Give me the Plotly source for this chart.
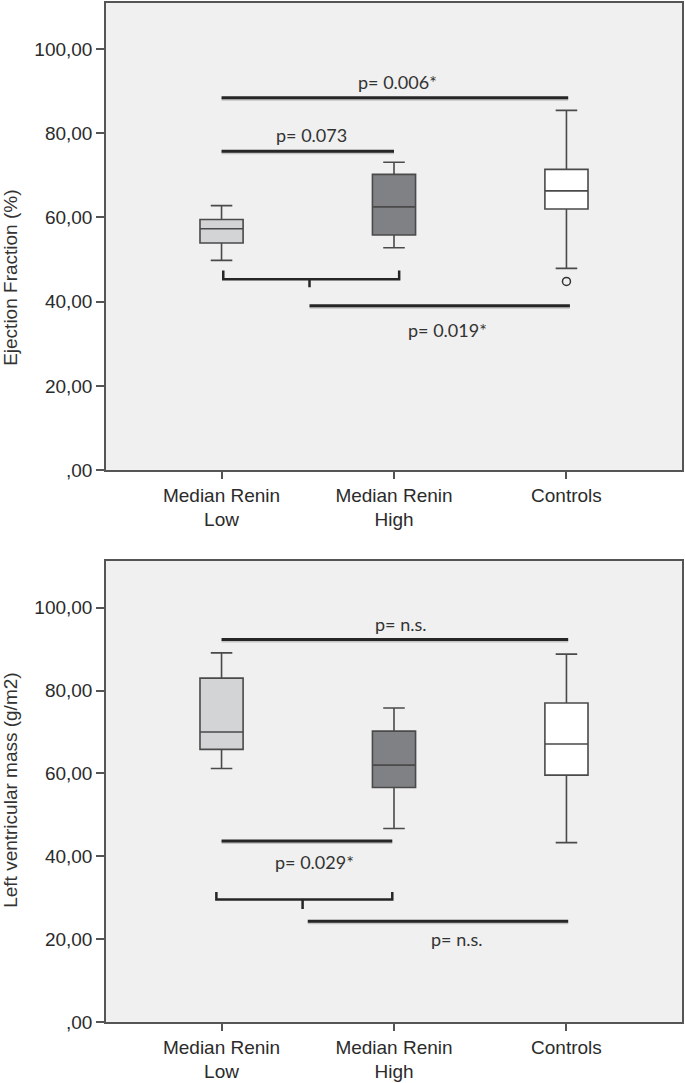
import plotly.graph_objects as go

# ---------------- data ----------------
categories = ["Median Renin<br>Low", "Median Renin<br>High", "Controls"]
cat_pos = [0, 1, 2]

# box stats: [lower whisker, q1, median, q3, upper whisker]
ef_low = [49.8, 53.9, 57.3, 59.5, 62.8]
ef_high = [52.8, 55.8, 62.5, 70.2, 73.1]
ef_ctrl = [47.9, 62.0, 66.3, 71.4, 85.4]
ef_outlier_x = [2]
ef_outlier_y = [44.8]

lvm_low = [61.2, 65.8, 70.0, 83.0, 89.1]
lvm_high = [46.7, 56.6, 62.0, 70.2, 75.8]
lvm_ctrl = [43.3, 59.6, 67.1, 77.0, 88.8]

y_tickvals = [0, 20, 40, 60, 80, 100]
y_ticktext = [",00", "20,00", "40,00", "60,00", "80,00", "100,00"]

# significance annotations: (x0, x1, y, label, label_x, label_y)
ef_sig = [
    (0.0, 2.01, 88.4, "p= 0.006*", 1.02, 92.2),
    (0.0, 1.0, 75.7, "p= 0.073", 0.52, 79.5),
    (0.51, 2.02, 39.0, "p= 0.019*", 1.31, 33.3),
]
ef_bracket = (0.01, 1.03, 45.3, 47.4, 0.51, 43.4)  # x0, x1, y, y_end, x_mid, y_mid

lvm_sig = [
    (0.0, 2.01, 92.3, "p= n.s.", 1.04, 96.1),
    (0.0, 0.99, 43.7, "p= 0.029*", 0.54, 38.7),
    (0.50, 2.01, 24.3, "p= n.s.", 1.36, 20.0),
]
lvm_bracket = (-0.03, 0.99, 29.6, 31.4, 0.47, 27.3)

fills = ["#d3d4d6", "#808184", "#ffffff"]

# ---------------- figure ----------------
FONT = "Liberation Sans, Arial, sans-serif"
PFONT = "Lato, Open Sans, sans-serif"
BOXLINE = "#4a4a4a"

fig = go.Figure()

def add_boxes(stats_list, xa, ya):
    for pos, st, fc in zip(cat_pos, stats_list, fills):
        fig.add_trace(go.Box(
            x=[pos], lowerfence=[st[0]], q1=[st[1]], median=[st[2]],
            q3=[st[3]], upperfence=[st[4]],
            fillcolor=fc, line=dict(color=BOXLINE, width=1.6),
            width=0.25, whiskerwidth=0.5, boxpoints=False,
            showlegend=False, hoverinfo="skip", xaxis=xa, yaxis=ya,
        ))

add_boxes([ef_low, ef_high, ef_ctrl], "x", "y")
add_boxes([lvm_low, lvm_high, lvm_ctrl], "x2", "y2")

fig.add_trace(go.Scatter(
    x=ef_outlier_x, y=ef_outlier_y, mode="markers",
    marker=dict(symbol="circle-open", size=8, color="#333333", line=dict(width=1.5)),
    showlegend=False, hoverinfo="skip", xaxis="x", yaxis="y",
))

shapes = []
annotations = []

def add_sig(sig, bracket, xr, yr, px_per_unit):
    off = 1.5 / px_per_unit
    for x0, x1, y, lab, lx, ly in sig:
        shapes.append(dict(type="line", xref=xr, yref=yr, x0=x0, x1=x1, y0=y - off, y1=y - off,
                           line=dict(color="#c4c4c4", width=3)))
        shapes.append(dict(type="line", xref=xr, yref=yr, x0=x0, x1=x1, y0=y, y1=y,
                           line=dict(color="#262626", width=3)))
        annotations.append(dict(xref=xr, yref=yr, x=lx, y=ly, text=lab, showarrow=False,
                                font=dict(family=PFONT, size=18, color="#333333")))
    bx0, bx1, by, bye, bxm, bym = bracket
    path = f"M {bx0},{bye} L {bx0},{by} L {bx1},{by} L {bx1},{bye} M {bxm},{by} L {bxm},{bym}"
    shapes.append(dict(type="path", xref=xr, yref=yr, path=path,
                       line=dict(color="#262626", width=2.5)))

add_sig(ef_sig, ef_bracket, "x", "y", 4.22)
add_sig(lvm_sig, lvm_bracket, "x2", "y2", 4.15)

annotations.append(dict(xref="paper", yref="paper", x=-0.166, y=(1022 - 276) / 1021,
                        text="Ejection Fraction (%)", textangle=-90, showarrow=False,
                        xanchor="center", yanchor="middle",
                        font=dict(family=FONT, size=19, color="#333333")))
annotations.append(dict(xref="paper", yref="paper", x=-0.166, y=(1022 - 790) / 1021,
                        text="Left ventricular mass (g/m2)", textangle=-90, showarrow=False,
                        xanchor="center", yanchor="middle",
                        font=dict(family=FONT, size=19, color="#333333")))

xaxis_common = dict(
    range=[-0.67, 2.67], tickvals=cat_pos, ticktext=categories,
    showgrid=False, zeroline=False, showline=True, linecolor="#555555", linewidth=1.5,
    mirror=True, ticks="outside", ticklen=7, tickcolor="#555555", tickwidth=1.5,
    tickfont=dict(family=FONT, size=19, color="#2b2b2b"), fixedrange=True,
)
yaxis_common = dict(
    tickvals=y_tickvals, ticktext=y_ticktext,
    showgrid=False, zeroline=False, showline=True, linecolor="#555555", linewidth=1.5,
    mirror=True, ticks="outside", ticklen=8, tickcolor="#555555", tickwidth=1.5,
    tickfont=dict(family=FONT, size=19, color="#2b2b2b"), fixedrange=True,
)

fig.update_layout(
    width=685, height=1083,
    margin=dict(l=106, r=1, t=1, b=61),
    paper_bgcolor="white", plot_bgcolor="#f0f0f0",
    showlegend=False,
    xaxis=dict(**xaxis_common, domain=[0, 1], anchor="y"),
    yaxis=dict(**yaxis_common, domain=[(1022 - 469) / 1021, 1.0], range=[0, 110.9], anchor="x"),
    xaxis2=dict(**xaxis_common, domain=[0, 1], anchor="y2"),
    yaxis2=dict(**yaxis_common, domain=[0, (1022 - 560) / 1021], range=[0, 111.3], anchor="x2"),
    shapes=shapes, annotations=annotations,
)

fig.write_html(
    "out.html",
    config={"displayModeBar": False},
    post_script="document.body.style.margin='0';document.body.style.padding='0';"
                "document.body.style.overflow='hidden';",
)
